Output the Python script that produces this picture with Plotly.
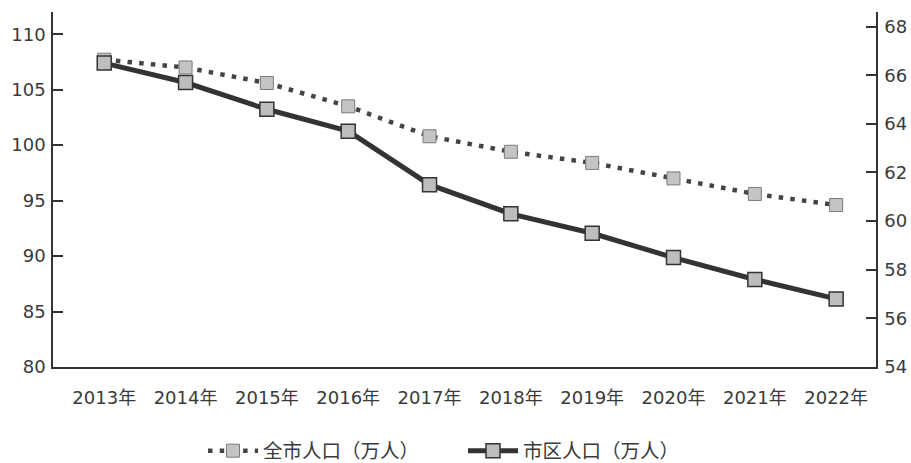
import plotly.graph_objects as go

years = ["2013年", "2014年", "2015年", "2016年", "2017年", "2018年", "2019年", "2020年", "2021年", "2022年"]
city_total = [107.7, 107.0, 105.6, 103.5, 100.8, 99.4, 98.4, 97.0, 95.6, 94.6]
urban = [66.5, 65.7, 64.6, 63.7, 61.5, 60.3, 59.5, 58.5, 57.6, 56.8]
name_total = "全市人口（万人）"
name_urban = "市区人口（万人）"
left_ticks = [80, 85, 90, 95, 100, 105, 110]
right_ticks = [54, 56, 58, 60, 62, 64, 66, 68]

xpos = list(range(len(years)))
FONT = "DejaVu Sans, Noto Sans CJK SC, sans-serif"
TXT = "#3a3a3a"
W, H = 911, 463

fig = go.Figure()
fig.add_trace(go.Scatter(
    x=xpos, y=city_total, name=name_total, yaxis="y", mode="lines+markers",
    line=dict(color="#444444", width=4.5, dash="4.5px,7.2px"),
    marker=dict(symbol="square", size=13, color="#c4c4c4",
                line=dict(color="#7a7a7a", width=1)),
))
fig.add_trace(go.Scatter(
    x=xpos, y=urban, name=name_urban, yaxis="y2", mode="lines+markers",
    line=dict(color="#333333", width=5),
    marker=dict(symbol="square", size=14, color="#bdbdbd",
                line=dict(color="#333333", width=1.5)),
))

fig.update_layout(
    width=W, height=H,
    margin=dict(l=53, r=35, t=12, b=96),
    paper_bgcolor="white", plot_bgcolor="white",
    font=dict(family=FONT, size=18, color=TXT),
    showlegend=True,
    legend=dict(orientation="h", xref="container", yref="container",
                x=463 / W, xanchor="center", y=12 / H, yanchor="middle",
                font=dict(family="Noto Sans CJK SC", size=19.5, color=TXT),
                itemwidth=50,
                entrywidth=195, entrywidthmode="pixels", tracegroupgap=0),
    xaxis=dict(range=[-0.63, 9.49], tickvals=xpos, ticktext=years, automargin=False,
               showgrid=False, zeroline=False, showline=True, linecolor="#333333",
               linewidth=1.5, ticks="", ticklabelstandoff=14,
               tickfont=dict(size=18, color=TXT)),
    yaxis=dict(range=[80, 112], tickvals=left_ticks, showgrid=False, zeroline=False,
               automargin=False,
               showline=True, linecolor="#333333", linewidth=1.5,
               ticks="inside", ticklen=10, tickcolor="#333333", tickwidth=1.5,
               ticklabelstandoff=2,
               tickfont=dict(size=18, color=TXT)),
    yaxis2=dict(range=[54, 68.6], tickvals=right_ticks, overlaying="y", side="right",
                automargin=False,
                showgrid=False, zeroline=False, showline=True, linecolor="#333333",
                linewidth=1.5, ticks="inside", ticklen=10, tickcolor="#333333",
                tickwidth=1.5, ticklabelstandoff=3,
                tickfont=dict(size=18, color=TXT)),
)

# remove the browser's default 8px body margin so the figure sits at the page origin
fig.write_html("out.html", config={"displayModeBar": False},
               post_script="document.body.style.margin='0';")
